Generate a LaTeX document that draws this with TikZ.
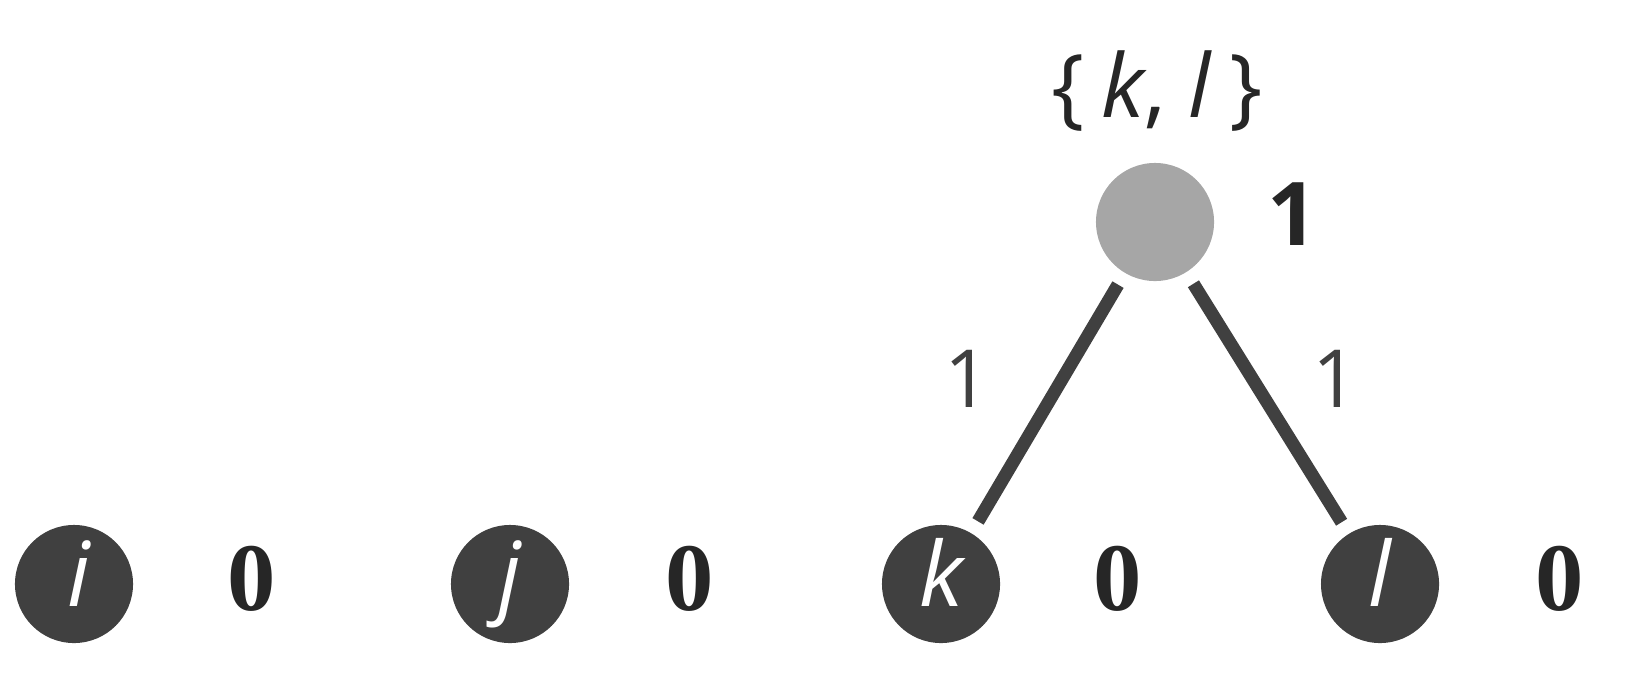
\documentclass[tikz,border=0pt]{standalone}
\usepackage{fontspec}
\setmainfont{Open Sans}
\newfontfamily\zerofont{Liberation Serif}

\definecolor{nodedark}{HTML}{404040}
\definecolor{nodegray}{HTML}{A6A6A6}
\definecolor{textdark}{HTML}{262626}

\tikzset{
	leaf/.style={circle, fill=nodedark, text=white, minimum size=1.18cm, inner sep=0pt,
		font=\fontsize{25.5}{30}\selectfont\itshape, text height=0.44cm, text depth=0pt},
	merged/.style={circle, fill=nodegray, minimum size=1.18cm, inner sep=0pt},
	link/.style={draw=nodedark, line width=0.13cm, shorten <=0.13cm, shorten >=0.13cm},
	score/.style={text=textdark, inner sep=0pt, font=\fontsize{27.5}{32}\selectfont\zerofont\bfseries},
	mscore/.style={text=textdark, inner sep=0pt, font=\fontsize{25}{30}\selectfont\bfseries},
	weight/.style={text=nodedark, inner sep=0pt, font=\fontsize{22.8}{27}\selectfont},
	setlabel/.style={text=textdark, inner sep=0pt, font=\fontsize{25}{30}\selectfont}
}

\begin{document}
\begin{tikzpicture}[x=0.01cm,y=0.01cm]

	% frame
	\useasboundingbox (0,0) rectangle (1640,696);

	% leaves
	\node[leaf] (i) at (74,112)  {\hspace{0.1em}i};
	\node[leaf] (j) at (510,112) {j};
	\node[leaf] (k) at (941,112) {k};
	\node[leaf] (l) at (1380,112) {l};

	% leaf scores
	\node[score] (si) at (252,117.5)  {0};
	\node[score] (sj) at (690,117.5)  {0};
	\node[score] (sk) at (1118,117.5) {0};
	\node[score] (sl) at (1560,117.5) {0};

	% merged node
	\node[merged] (kl) at (1155,474) {};
	\node[mscore] (skl) at (1293,481.5) {1};
	\node[setlabel] (set) at (1157,605) {\{\hspace{0.35ex}\textit{k}, \textit{l}\hspace{0.35ex}\}};

	% links
	\draw[link] (kl) -- (k);
	\draw[link] (kl) -- (l);

	% link weights
	\node[weight] (wk) at (967,317.5)  {1};
	\node[weight] (wl) at (1335,317.5) {1};

\end{tikzpicture}
\end{document}
